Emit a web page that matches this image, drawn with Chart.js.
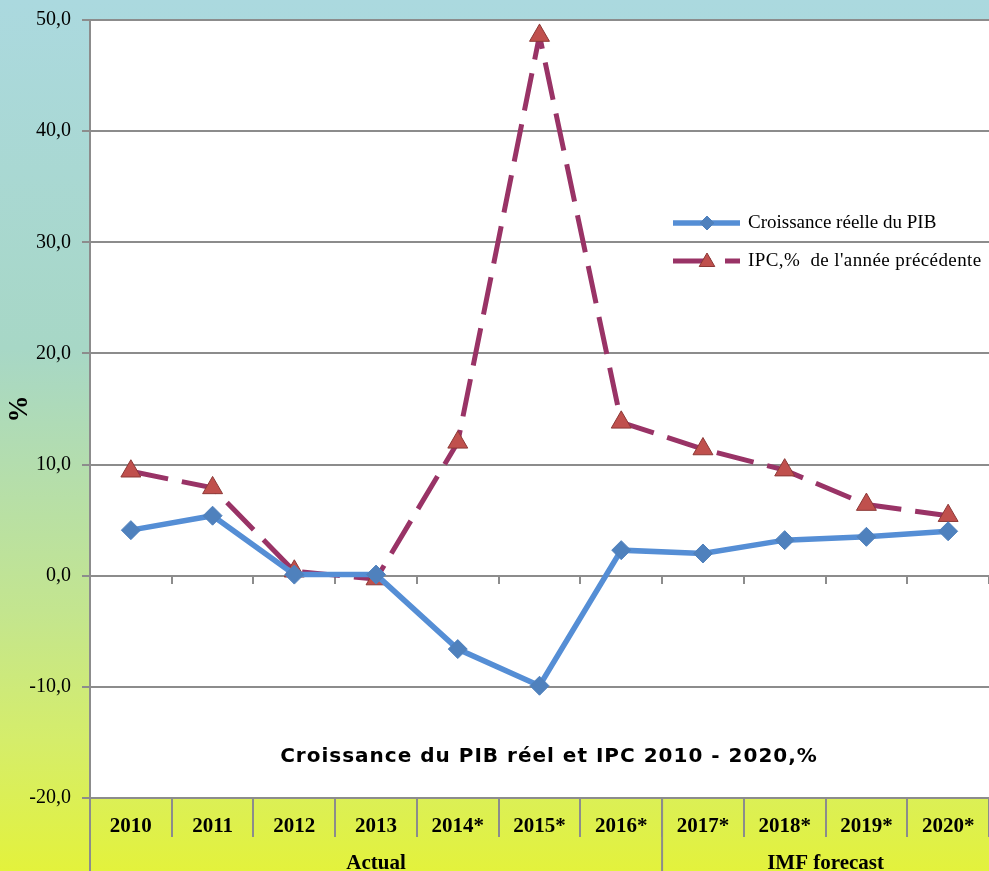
<!DOCTYPE html>
<html>
<head>
<meta charset="utf-8">
<script src="https://cdn.jsdelivr.net/npm/chart.js@4/dist/chart.umd.min.js"></script>
<style>
  body { margin: 0; background: #fff; }
  canvas { display: block; }
</style>
</head>
<body>
<canvas id="chart" width="989" height="871"></canvas>
<script>
////////////
//// Data

let years = ['2010', '2011', '2012', '2013', '2014*', '2015*', '2016*', '2017*', '2018*', '2019*', '2020*'];
let pib = [4.1, 5.4, 0.1, 0.1, -6.6, -9.9, 2.3, 2.0, 3.2, 3.5, 4.0];
let ipc = [9.4, 7.9, 0.4, -0.3, 12.0, 48.6, 13.8, 11.4, 9.5, 6.4, 5.4];

let groups = ['Actual', 'IMF forecast'];
let groupSizes = [7, 4];

let seriesNames = ['Croissance réelle du PIB', "IPC,%  de l'année précédente"];
let chartTitle = 'Croissance du PIB réel et IPC 2010 - 2020,%';

////////////
//// Styles

let GRID = '#8c8c8c';
let BLUE_LINE = '#558ed5';
let BLUE_MARK = '#4f81bd';
let RED_LINE = '#993366';
let RED_MARK = '#c0504d';
let RED_EDGE = '#8c3836';
let DASH = [38, 14];

function fmt(v) {
	return v.toFixed(1).replace('.', ',');
}

// keep the plot box exactly where the reference has it
function noPad(s) {
	s.paddingLeft = 0;
	s.paddingRight = 0;
	s.paddingTop = 0;
	s.paddingBottom = 0;
}

////////////
//// Plugins

let background = {
	id: 'background',
	beforeDraw(chart) {
		let c = chart.ctx;
		let a = chart.chartArea;
		let g = c.createLinearGradient(0, 0, 0, chart.height);
		g.addColorStop(0, '#abd9df');
		g.addColorStop(0.4, '#a7d7c6');
		g.addColorStop(0.7, '#c3e58f');
		g.addColorStop(0.85, '#d5ed6a');
		g.addColorStop(1, '#e3f23c');
		c.save();
		c.fillStyle = g;
		c.fillRect(0, 0, chart.width, chart.height);
		c.fillStyle = '#ffffff';
		c.fillRect(a.left, a.top, a.right - a.left, a.bottom - a.top);
		c.restore();
	}
};

let extras = {
	id: 'extras',
	afterDraw(chart) {
		let c = chart.ctx;
		let a = chart.chartArea;
		let x = chart.scales.x;
		c.save();

		// group row under the years
		let bandW = (a.right - a.left) / years.length;
		let start = 0;
		c.strokeStyle = GRID;
		c.lineWidth = 2;
		c.beginPath();
		c.moveTo(a.left, a.bottom);
		c.lineTo(a.left, chart.height);
		c.stroke();
		c.font = 'bold 21px "Liberation Serif"';
		c.fillStyle = '#000';
		c.textAlign = 'center';
		c.textBaseline = 'alphabetic';
		for (let i = 0; i < groups.length; ++i) {
			let x0 = x.getPixelForValue(start) - bandW / 2;
			let x1 = x.getPixelForValue(start + groupSizes[i] - 1) + bandW / 2;
			c.fillText(groups[i], (x0 + x1) / 2, 869);
			if (i > 0) {
				c.beginPath();
				c.moveTo(x0, a.bottom);
				c.lineTo(x0, chart.height);
				c.stroke();
			}
			start += groupSizes[i];
		}

		// title inside the plot
		c.font = 'bold 20px "DejaVu Sans"';
		c.letterSpacing = '1px';
		c.textBaseline = 'middle';
		c.fillText(chartTitle, 549, 757);
		c.letterSpacing = '0px';

		// legend
		let sets = chart.data.datasets;
		let rows = [223, 261];
		c.font = '19px "Liberation Serif"';
		c.textAlign = 'left';
		for (let i = 0; i < sets.length; ++i) {
			let ds = sets[i];
			c.strokeStyle = ds.borderColor;
			c.lineWidth = ds.borderWidth;
			c.setLineDash(ds.borderDash || []);
			c.beginPath();
			c.moveTo(673, rows[i]);
			c.lineTo(740, rows[i]);
			c.stroke();
			c.setLineDash([]);
			c.fillStyle = ds.pointBackgroundColor;
			c.strokeStyle = ds.pointBorderColor;
			c.lineWidth = 1;
			Chart.helpers.drawPoint(c, {
				pointStyle: ds.pointStyle,
				radius: i == 0 ? 7 : 9,
				borderWidth: 1
			}, 707, rows[i] + (i == 0 ? 0 : 1));
			c.fillStyle = '#000';
			c.letterSpacing = i == 0 ? '0px' : '0.4px';
			c.fillText(ds.label, 748, rows[i]);
		}
		c.restore();
	}
};

////////////
//// Chart

let ctx = document.getElementById('chart').getContext('2d');

let currentChart = new Chart(ctx, {
	type: 'line',
	data: {
		labels: years,
		datasets: [{
			label: seriesNames[0],
			data: pib,
			borderColor: BLUE_LINE,
			borderWidth: 5.5,
			pointStyle: 'rectRot',
			pointRadius: 9.5,
			pointBackgroundColor: BLUE_MARK,
			pointBorderColor: BLUE_MARK,
			pointBorderWidth: 1,
			tension: 0,
			fill: false
		}, {
			label: seriesNames[1],
			data: ipc,
			borderColor: RED_LINE,
			borderWidth: 5,
			borderDash: DASH,
			borderCapStyle: 'butt',
			pointStyle: 'triangle',
			pointRadius: 11.5,
			pointBackgroundColor: RED_MARK,
			pointBorderColor: RED_EDGE,
			pointBorderWidth: 1,
			tension: 0,
			fill: false
		}]
	},
	options: {
		responsive: false,
		animation: false,
		layout: { autoPadding: false, padding: { top: 20, left: 0, right: 0, bottom: 0 } },
		plugins: {
			legend: { display: false },
			tooltip: { enabled: false },
			title: { display: false }
		},
		scales: {
			x: {
				type: 'category',
				position: 'bottom',
				offset: true,
				afterFit: s => { s.height = 73; noPad(s); },
				grid: {
					display: true,
					offset: true,
					drawOnChartArea: false,
					tickLength: 39,
					color: GRID,
					lineWidth: 2
				},
				border: { display: true, color: GRID, width: 2 },
				ticks: {
					autoSkip: false,
					maxRotation: 0,
					padding: -23,
					color: '#000',
					font: { family: 'Liberation Serif', size: 21, weight: 'bold' }
				}
			},
			x0: {
				type: 'category',
				position: { y: 0 },
				offset: true,
				afterFit: s => { noPad(s); },
				grid: {
					display: true,
					offset: true,
					drawOnChartArea: false,
					tickLength: 7,
					color: GRID,
					lineWidth: 2
				},
				border: { display: true, color: GRID, width: 2 },
				ticks: { display: false }
			},
			y: {
				min: -20,
				max: 50,
				afterFit: s => { s.width = 90; noPad(s); },
				grid: {
					color: GRID,
					lineWidth: 2,
					tickLength: 8
				},
				border: { display: true, color: GRID, width: 2 },
				ticks: {
					stepSize: 10,
					padding: 11,
					color: '#000',
					font: { family: 'Liberation Serif', size: 20 },
					callback: v => fmt(v)
				},
				title: {
					display: true,
					text: '%',
					color: '#000',
					padding: { top: 4, bottom: 0 },
					font: { family: 'Liberation Serif', size: 27, weight: 'bold' }
				}
			}
		}
	},
	plugins: [background, extras]
});
</script>
</body>
</html>
